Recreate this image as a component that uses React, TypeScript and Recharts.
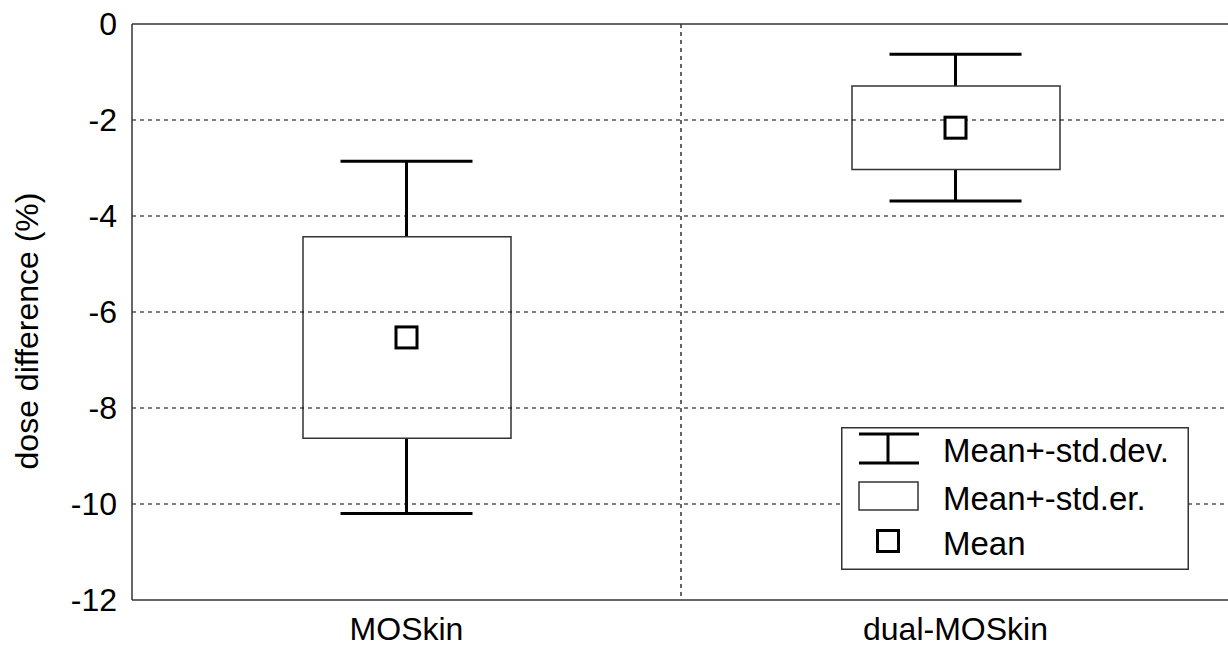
import React from 'react';
import {
  ComposedChart,
  Bar,
  Scatter,
  ErrorBar,
  XAxis,
  YAxis,
  CartesianGrid,
  ReferenceLine,
  Legend,
} from 'recharts';

const categories = ['MOSkin', 'dual-MOSkin'];
const means = [-6.53, -2.16];
const stdErrors = [2.1, 0.87];
const stdDevs = [3.67, 1.53];
const yTicks = [0, -2, -4, -6, -8, -10, -12];
const legendLabels = ['Mean+-std.dev.', 'Mean+-std.er.', 'Mean'];
const yLabel = 'dose difference (%)';

const data = categories.map((name, i) => ({
  name,
  mean: means[i],
  sd: stdDevs[i],
  seRange: [means[i] - stdErrors[i], means[i] + stdErrors[i]],
}));

const FONT = 'Arial, "Liberation Sans", sans-serif';
const AXIS = '#333';
const GRID = '#000';

const MeanMarker = (props: any) => {
  const { cx, cy } = props;
  if (cx == null || cy == null) return <g />;
  return (
    <rect x={cx - 10.5} y={cy - 10.5} width={21} height={21} fill="#fff" stroke="#000" strokeWidth={3} />
  );
};

const Nothing = () => <g />;

const LegendBox = () => (
  <svg width={348} height={143} style={{ display: 'block' }}>
    <rect x={0.75} y={0.75} width={346.5} height={141.5} fill="#fff" stroke="#333" strokeWidth={1.5} />
    <g stroke="#000" strokeWidth={3}>
      <line x1={18} y1={7} x2={78} y2={7} />
      <line x1={18} y1={36} x2={78} y2={36} />
      <line x1={47} y1={7} x2={47} y2={36} />
    </g>
    <rect x={18} y={55} width={59} height={28} fill="#fff" stroke="#333" strokeWidth={1.5} />
    <rect x={36.5} y={103.5} width={21} height={21} fill="#fff" stroke="#000" strokeWidth={3} />
    {legendLabels.map((t, i) => (
      <text key={t} x={102} y={[35, 83, 128][i]} fontSize={33} fontFamily={FONT} fill="#000">
        {t}
      </text>
    ))}
  </svg>
);

const YLabel = (props: any) => {
  const vb = props.viewBox || { x: 0, y: 24, width: 132, height: 576 };
  const x = vb.x + 38;
  const y = vb.y + vb.height / 2 + 19;
  return (
    <text x={x} y={y} transform={`rotate(-90, ${x}, ${y})`} textAnchor="middle" fontSize={32} fontFamily={FONT} fill="#000">
      {yLabel}
    </text>
  );
};

const categoryBoundaries = (args: any) => {
  const off = args.offset || {};
  const n = categories.length;
  const out: number[] = [];
  for (let k = 1; k < n; k++) out.push(off.left + (off.width * k) / n);
  return out;
};

export default function App() {
  return (
    <div style={{ position: 'absolute', left: 0, top: 0, width: 1228, height: 653, overflow: 'hidden', background: '#fff' }}>
      <ComposedChart width={1230} height={653} data={data} margin={{ top: 24, right: 0, bottom: 0, left: 0 }}>
        <CartesianGrid
          horizontal={false}
          vertical
          verticalCoordinatesGenerator={categoryBoundaries}
          stroke={GRID}
          strokeWidth={1.2}
          strokeDasharray="4 4"
        />
        <XAxis
          dataKey="name"
          type="category"
          height={53}
          tickLine={false}
          tickSize={0}
          tickMargin={17}
          axisLine={{ stroke: AXIS, strokeWidth: 1.5 }}
          tick={{ fontSize: 32, fontFamily: FONT, fill: '#000' }}
          interval={0}
        />
        <YAxis
          type="number"
          domain={[-12, 0]}
          ticks={yTicks}
          width={132}
          tickLine={false}
          tickSize={0}
          tickMargin={15}
          axisLine={{ stroke: AXIS, strokeWidth: 1.5 }}
          tick={{ fontSize: 32, fontFamily: FONT, fill: '#000' }}
          allowDataOverflow
          label={{ content: <YLabel /> } as any}
        />
        {yTicks
          .filter((t) => t !== 0 && t !== -12)
          .map((t) => (
            <ReferenceLine key={t} y={t} stroke={GRID} strokeWidth={1.2} strokeDasharray="4 4" />
          ))}
        <ReferenceLine y={0} stroke={AXIS} strokeWidth={1.5} />
        <Scatter dataKey="mean" shape={<Nothing />} isAnimationActive={false} legendType="none" {...({ zIndex: 250 } as any)}>
          <ErrorBar dataKey="sd" direction="y" width={66} stroke="#000" strokeWidth={3} {...({ zIndex: 250 } as any)} />
        </Scatter>
        <Bar
          dataKey="seRange"
          barSize={208}
          fill="#fff"
          stroke="#333"
          strokeWidth={1.5}
          isAnimationActive={false}
          {...({ zIndex: 300 } as any)}
        />
        <Scatter dataKey="mean" shape={<MeanMarker />} isAnimationActive={false} {...({ zIndex: 600 } as any)} />
        <Legend
          content={<LegendBox />}
          layout="horizontal"
          verticalAlign="middle"
          align="center"
          wrapperStyle={{ left: 841, top: 427, width: 348, height: 143 }}
        />
      </ComposedChart>
    </div>
  );
}
